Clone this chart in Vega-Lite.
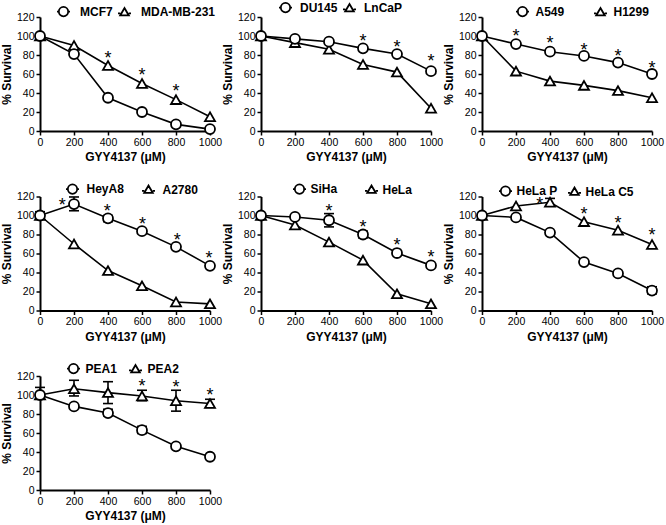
{
  "$schema": "https://vega.github.io/schema/vega-lite/v6.json",
  "padding": {"left": 0, "top": 0, "right": 5, "bottom": 5},
  "background": "white",
  "columns": 3,
  "bounds": "flush",
  "spacing": {"row": 65.5, "column": 51},
  "resolve": {"scale": {"shape": "independent"}, "legend": {"shape": "independent"}},
  "datasets": {
    "p1": [
      {"cell": "MDA-MB-231", "dose": 0, "survival": 100},
      {"cell": "MDA-MB-231", "dose": 200, "survival": 90},
      {"cell": "MDA-MB-231", "dose": 400, "survival": 69},
      {"cell": "MDA-MB-231", "dose": 600, "survival": 50},
      {"cell": "MDA-MB-231", "dose": 800, "survival": 33},
      {"cell": "MDA-MB-231", "dose": 1000, "survival": 15},
      {"cell": "MCF7", "dose": 0, "survival": 100},
      {"cell": "MCF7", "dose": 200, "survival": 81},
      {"cell": "MCF7", "dose": 400, "survival": 35},
      {"cell": "MCF7", "dose": 600, "survival": 20},
      {"cell": "MCF7", "dose": 800, "survival": 7},
      {"cell": "MCF7", "dose": 1000, "survival": 2}
    ],
    "s1": [
      {"dose": 400, "survival": 81.5},
      {"dose": 600, "survival": 64},
      {"dose": 800, "survival": 47}
    ],
    "p2": [
      {"cell": "LnCaP", "dose": 0, "survival": 100},
      {"cell": "LnCaP", "dose": 200, "survival": 93},
      {"cell": "LnCaP", "dose": 400, "survival": 86},
      {"cell": "LnCaP", "dose": 600, "survival": 70},
      {"cell": "LnCaP", "dose": 800, "survival": 62},
      {"cell": "LnCaP", "dose": 1000, "survival": 24},
      {"cell": "DU145", "dose": 0, "survival": 100},
      {"cell": "DU145", "dose": 200, "survival": 97},
      {"cell": "DU145", "dose": 400, "survival": 94},
      {"cell": "DU145", "dose": 600, "survival": 87},
      {"cell": "DU145", "dose": 800, "survival": 81},
      {"cell": "DU145", "dose": 1000, "survival": 63}
    ],
    "s2": [
      {"dose": 600, "survival": 100},
      {"dose": 800, "survival": 93},
      {"dose": 1000, "survival": 78}
    ],
    "p3": [
      {"cell": "H1299", "dose": 0, "survival": 100},
      {"cell": "H1299", "dose": 200, "survival": 63},
      {"cell": "H1299", "dose": 400, "survival": 52.5},
      {"cell": "H1299", "dose": 600, "survival": 48},
      {"cell": "H1299", "dose": 800, "survival": 42.5},
      {"cell": "H1299", "dose": 1000, "survival": 35},
      {"cell": "A549", "dose": 0, "survival": 100},
      {"cell": "A549", "dose": 200, "survival": 91.5},
      {"cell": "A549", "dose": 400, "survival": 83.5},
      {"cell": "A549", "dose": 600, "survival": 79},
      {"cell": "A549", "dose": 800, "survival": 72},
      {"cell": "A549", "dose": 1000, "survival": 60}
    ],
    "s3": [
      {"dose": 200, "survival": 104.5},
      {"dose": 400, "survival": 97},
      {"dose": 600, "survival": 90},
      {"dose": 800, "survival": 83.5},
      {"dose": 1000, "survival": 71}
    ],
    "p4": [
      {"cell": "A2780", "dose": 0, "survival": 100},
      {"cell": "A2780", "dose": 200, "survival": 70},
      {"cell": "A2780", "dose": 400, "survival": 42},
      {"cell": "A2780", "dose": 600, "survival": 26},
      {"cell": "A2780", "dose": 800, "survival": 9},
      {"cell": "A2780", "dose": 1000, "survival": 7},
      {"cell": "HeyA8", "dose": 0, "survival": 100, "lo": 96, "hi": 104},
      {"cell": "HeyA8", "dose": 200, "survival": 112, "lo": 105, "hi": 119.5},
      {"cell": "HeyA8", "dose": 400, "survival": 97, "lo": 93.5, "hi": 100},
      {"cell": "HeyA8", "dose": 600, "survival": 83.5},
      {"cell": "HeyA8", "dose": 800, "survival": 67},
      {"cell": "HeyA8", "dose": 1000, "survival": 47}
    ],
    "s4": [
      {"dose": 131, "survival": 115.5},
      {"dose": 395, "survival": 109},
      {"dose": 603, "survival": 96},
      {"dose": 808, "survival": 79},
      {"dose": 994, "survival": 60}
    ],
    "p5": [
      {"cell": "HeLa", "dose": 0, "survival": 100},
      {"cell": "HeLa", "dose": 200, "survival": 90},
      {"cell": "HeLa", "dose": 400, "survival": 72},
      {"cell": "HeLa", "dose": 600, "survival": 53},
      {"cell": "HeLa", "dose": 800, "survival": 17.5},
      {"cell": "HeLa", "dose": 1000, "survival": 7},
      {"cell": "SiHa", "dose": 0, "survival": 100},
      {"cell": "SiHa", "dose": 200, "survival": 98.5},
      {"cell": "SiHa", "dose": 400, "survival": 95, "lo": 88, "hi": 102},
      {"cell": "SiHa", "dose": 600, "survival": 80, "lo": 76.5, "hi": 83.5},
      {"cell": "SiHa", "dose": 800, "survival": 60.5},
      {"cell": "SiHa", "dose": 1000, "survival": 47.5}
    ],
    "s5": [
      {"dose": 400, "survival": 110},
      {"dose": 600, "survival": 92.5},
      {"dose": 800, "survival": 74},
      {"dose": 1000, "survival": 61}
    ],
    "p6": [
      {"cell": "HeLa C5", "dose": 0, "survival": 100},
      {"cell": "HeLa C5", "dose": 200, "survival": 110},
      {"cell": "HeLa C5", "dose": 400, "survival": 114, "lo": 110, "hi": 118},
      {"cell": "HeLa C5", "dose": 600, "survival": 93.5},
      {"cell": "HeLa C5", "dose": 800, "survival": 84.5},
      {"cell": "HeLa C5", "dose": 1000, "survival": 69.5},
      {"cell": "HeLa P", "dose": 0, "survival": 100},
      {"cell": "HeLa P", "dose": 200, "survival": 98},
      {"cell": "HeLa P", "dose": 400, "survival": 82},
      {"cell": "HeLa P", "dose": 600, "survival": 51},
      {"cell": "HeLa P", "dose": 800, "survival": 39},
      {"cell": "HeLa P", "dose": 1000, "survival": 21, "lo": 17.5, "hi": 25}
    ],
    "s6": [
      {"dose": 340, "survival": 117.3},
      {"dose": 600, "survival": 106},
      {"dose": 800, "survival": 97},
      {"dose": 1000, "survival": 84.5}
    ],
    "p7": [
      {"cell": "PEA2", "dose": 0, "survival": 100, "lo": 95.5, "hi": 108},
      {"cell": "PEA2", "dose": 200, "survival": 106.5, "lo": 99, "hi": 115.5},
      {"cell": "PEA2", "dose": 400, "survival": 102.5, "lo": 91, "hi": 114},
      {"cell": "PEA2", "dose": 600, "survival": 99, "lo": 94, "hi": 105},
      {"cell": "PEA2", "dose": 800, "survival": 94, "lo": 83, "hi": 105},
      {"cell": "PEA2", "dose": 1000, "survival": 91, "lo": 87, "hi": 95.5},
      {"cell": "PEA1", "dose": 0, "survival": 100},
      {"cell": "PEA1", "dose": 200, "survival": 88},
      {"cell": "PEA1", "dose": 400, "survival": 81, "lo": 78, "hi": 85},
      {"cell": "PEA1", "dose": 600, "survival": 63, "lo": 59.5, "hi": 67},
      {"cell": "PEA1", "dose": 800, "survival": 46},
      {"cell": "PEA1", "dose": 1000, "survival": 35}
    ],
    "s7": [
      {"dose": 600, "survival": 114.5},
      {"dose": 800, "survival": 113},
      {"dose": 1000, "survival": 105}
    ]
  },
  "concat": [
    {
      "width": 170, "height": 114,
      "data": {"name": "p1"},
      "resolve": {"scale": {"shape": "independent"}},
      "encoding": {
        "x": {"field": "dose", "type": "quantitative", "scale": {"domain": [0, 1000], "nice": false}, "axis": {"title": "GYY4137 (μM)", "format": "d", "values": [0, 200, 400, 600, 800, 1000]}},
        "y": {"field": "survival", "type": "quantitative", "scale": {"domain": [0, 120], "nice": false}, "axis": {"title": "% Survival", "values": [0, 20, 40, 60, 80, 100, 120]}}
      },
      "layer": [
        {"transform": [{"filter": "false"}], "mark": {"type": "point", "filled": false, "stroke": "black", "strokeWidth": 1.8, "size": 169, "opacity": 1},
         "encoding": {"shape": {"field": "cell", "type": "nominal", "scale": {"domain": ["MCF7", "MDA-MB-231"], "range": ["M-1,0L-0.72,0M0.72,0L1,0M0.72,0A0.72,0.72 0 1,1 -0.72,0A0.72,0.72 0 1,1 0.72,0Z", "M-1,0.15L-0.66,0.15M0.66,0.15L1,0.15M-0.66,0.46L0.66,0.46L0,-0.68Z"]},
           "legend": {"title": null, "orient": "none", "direction": "horizontal", "legendX": 16, "legendY": -13, "labelOffset": 9, "columnPadding": 1}}}},
        {"mark": {"type": "line", "color": "black", "strokeWidth": 1.6}, "encoding": {"detail": {"field": "cell"}}},
        {"mark": {"type": "point", "filled": true, "fill": "white", "stroke": "black", "strokeWidth": 1.8, "size": 100, "opacity": 1},
         "encoding": {"shape": {"field": "cell", "type": "nominal", "scale": {"domain": ["MCF7", "MDA-MB-231"], "range": ["circle", "triangle-up"]}, "legend": null}}},
        {"data": {"name": "s1"}, "mark": {"type": "text", "text": "*", "fontSize": 18, "font": "Liberation Sans", "color": "black", "baseline": "alphabetic", "dy": 10.5}}
      ]
    },
    {
      "width": 170, "height": 114,
      "data": {"name": "p2"},
      "resolve": {"scale": {"shape": "independent"}},
      "encoding": {
        "x": {"field": "dose", "type": "quantitative", "scale": {"domain": [0, 1000], "nice": false}, "axis": {"title": "GYY4137 (μM)", "format": "d", "values": [0, 200, 400, 600, 800, 1000]}},
        "y": {"field": "survival", "type": "quantitative", "scale": {"domain": [0, 120], "nice": false}, "axis": {"title": "% Survival", "values": [0, 20, 40, 60, 80, 100, 120]}}
      },
      "layer": [
        {"transform": [{"filter": "false"}], "mark": {"type": "point", "filled": false, "stroke": "black", "strokeWidth": 1.8, "size": 169, "opacity": 1},
         "encoding": {"shape": {"field": "cell", "type": "nominal", "scale": {"domain": ["DU145", "LnCaP"], "range": ["M-1,0L-0.72,0M0.72,0L1,0M0.72,0A0.72,0.72 0 1,1 -0.72,0A0.72,0.72 0 1,1 0.72,0Z", "M-1,0.15L-0.66,0.15M0.66,0.15L1,0.15M-0.66,0.46L0.66,0.46L0,-0.68Z"]},
           "legend": {"title": null, "orient": "none", "direction": "horizontal", "legendX": 17, "legendY": -17, "labelOffset": 7, "columnPadding": 1}}}},
        {"mark": {"type": "line", "color": "black", "strokeWidth": 1.6}, "encoding": {"detail": {"field": "cell"}}},
        {"mark": {"type": "point", "filled": true, "fill": "white", "stroke": "black", "strokeWidth": 1.8, "size": 100, "opacity": 1},
         "encoding": {"shape": {"field": "cell", "type": "nominal", "scale": {"domain": ["DU145", "LnCaP"], "range": ["circle", "triangle-up"]}, "legend": null}}},
        {"data": {"name": "s2"}, "mark": {"type": "text", "text": "*", "fontSize": 18, "font": "Liberation Sans", "color": "black", "baseline": "alphabetic", "dy": 10.5}}
      ]
    },
    {
      "width": 170, "height": 114,
      "data": {"name": "p3"},
      "resolve": {"scale": {"shape": "independent"}},
      "encoding": {
        "x": {"field": "dose", "type": "quantitative", "scale": {"domain": [0, 1000], "nice": false}, "axis": {"title": "GYY4137 (μM)", "format": "d", "values": [0, 200, 400, 600, 800, 1000]}},
        "y": {"field": "survival", "type": "quantitative", "scale": {"domain": [0, 120], "nice": false}, "axis": {"title": "% Survival", "values": [0, 20, 40, 60, 80, 100, 120]}}
      },
      "layer": [
        {"transform": [{"filter": "false"}], "mark": {"type": "point", "filled": false, "stroke": "black", "strokeWidth": 1.8, "size": 169, "opacity": 1},
         "encoding": {"shape": {"field": "cell", "type": "nominal", "scale": {"domain": ["A549", "H1299"], "range": ["M-1,0L-0.72,0M0.72,0L1,0M0.72,0A0.72,0.72 0 1,1 -0.72,0A0.72,0.72 0 1,1 0.72,0Z", "M-1,0.15L-0.66,0.15M0.66,0.15L1,0.15M-0.66,0.46L0.66,0.46L0,-0.68Z"]},
           "legend": {"title": null, "orient": "none", "direction": "horizontal", "legendX": 33, "legendY": -13, "labelOffset": 5.5, "columnPadding": 25}}}},
        {"mark": {"type": "line", "color": "black", "strokeWidth": 1.6}, "encoding": {"detail": {"field": "cell"}}},
        {"mark": {"type": "point", "filled": true, "fill": "white", "stroke": "black", "strokeWidth": 1.8, "size": 100, "opacity": 1},
         "encoding": {"shape": {"field": "cell", "type": "nominal", "scale": {"domain": ["A549", "H1299"], "range": ["circle", "triangle-up"]}, "legend": null}}},
        {"data": {"name": "s3"}, "mark": {"type": "text", "text": "*", "fontSize": 18, "font": "Liberation Sans", "color": "black", "baseline": "alphabetic", "dy": 10.5}}
      ]
    },
    {
      "width": 170, "height": 114,
      "data": {"name": "p4"},
      "resolve": {"scale": {"shape": "independent"}},
      "encoding": {
        "x": {"field": "dose", "type": "quantitative", "scale": {"domain": [0, 1000], "nice": false}, "axis": {"title": "GYY4137 (μM)", "format": "d", "values": [0, 200, 400, 600, 800, 1000]}},
        "y": {"field": "survival", "type": "quantitative", "scale": {"domain": [0, 120], "nice": false}, "axis": {"title": "% Survival", "values": [0, 20, 40, 60, 80, 100, 120]}}
      },
      "layer": [
        {"transform": [{"filter": "false"}], "mark": {"type": "point", "filled": false, "stroke": "black", "strokeWidth": 1.8, "size": 169, "opacity": 1},
         "encoding": {"shape": {"field": "cell", "type": "nominal", "scale": {"domain": ["HeyA8", "A2780"], "range": ["M-1,0L-0.72,0M0.72,0L1,0M0.72,0A0.72,0.72 0 1,1 -0.72,0A0.72,0.72 0 1,1 0.72,0Z", "M-1,0.15L-0.66,0.15M0.66,0.15L1,0.15M-0.66,0.46L0.66,0.46L0,-0.68Z"]},
           "legend": {"title": null, "orient": "none", "direction": "horizontal", "legendX": 25, "legendY": -15, "labelOffset": 6.5, "columnPadding": 14}}}},
        {"mark": {"type": "line", "color": "black", "strokeWidth": 1.6}, "encoding": {"detail": {"field": "cell"}}},
        {"transform": [{"filter": "isValid(datum.lo)"}], "mark": {"type": "rule", "color": "black", "strokeWidth": 1.6},
         "encoding": {"y": {"field": "lo", "type": "quantitative", "title": "% Survival"}, "y2": {"field": "hi"}}},
        {"transform": [{"filter": "isValid(datum.lo)"}, {"fold": ["lo", "hi"], "as": ["end", "v"]}],
         "mark": {"type": "point", "shape": "stroke", "color": "black", "strokeWidth": 1.6, "size": 100, "opacity": 1},
         "encoding": {"y": {"field": "v", "type": "quantitative", "title": "% Survival"}}},
        {"mark": {"type": "point", "filled": true, "fill": "white", "stroke": "black", "strokeWidth": 1.8, "size": 100, "opacity": 1},
         "encoding": {"shape": {"field": "cell", "type": "nominal", "scale": {"domain": ["HeyA8", "A2780"], "range": ["circle", "triangle-up"]}, "legend": null}}},
        {"data": {"name": "s4"}, "mark": {"type": "text", "text": "*", "fontSize": 18, "font": "Liberation Sans", "color": "black", "baseline": "alphabetic", "dy": 10.5}}
      ]
    },
    {
      "width": 170, "height": 114,
      "data": {"name": "p5"},
      "resolve": {"scale": {"shape": "independent"}},
      "encoding": {
        "x": {"field": "dose", "type": "quantitative", "scale": {"domain": [0, 1000], "nice": false}, "axis": {"title": "GYY4137 (μM)", "format": "d", "values": [0, 200, 400, 600, 800, 1000]}},
        "y": {"field": "survival", "type": "quantitative", "scale": {"domain": [0, 120], "nice": false}, "axis": {"title": "% Survival", "values": [0, 20, 40, 60, 80, 100, 120]}}
      },
      "layer": [
        {"transform": [{"filter": "false"}], "mark": {"type": "point", "filled": false, "stroke": "black", "strokeWidth": 1.8, "size": 169, "opacity": 1},
         "encoding": {"shape": {"field": "cell", "type": "nominal", "scale": {"domain": ["SiHa", "HeLa"], "range": ["M-1,0L-0.72,0M0.72,0L1,0M0.72,0A0.72,0.72 0 1,1 -0.72,0A0.72,0.72 0 1,1 0.72,0Z", "M-1,0.15L-0.66,0.15M0.66,0.15L1,0.15M-0.66,0.46L0.66,0.46L0,-0.68Z"]},
           "legend": {"title": null, "orient": "none", "direction": "horizontal", "legendX": 31, "legendY": -15, "labelOffset": 3.5, "columnPadding": 23}}}},
        {"mark": {"type": "line", "color": "black", "strokeWidth": 1.6}, "encoding": {"detail": {"field": "cell"}}},
        {"transform": [{"filter": "isValid(datum.lo)"}], "mark": {"type": "rule", "color": "black", "strokeWidth": 1.6},
         "encoding": {"y": {"field": "lo", "type": "quantitative", "title": "% Survival"}, "y2": {"field": "hi"}}},
        {"transform": [{"filter": "isValid(datum.lo)"}, {"fold": ["lo", "hi"], "as": ["end", "v"]}],
         "mark": {"type": "point", "shape": "stroke", "color": "black", "strokeWidth": 1.6, "size": 100, "opacity": 1},
         "encoding": {"y": {"field": "v", "type": "quantitative", "title": "% Survival"}}},
        {"mark": {"type": "point", "filled": true, "fill": "white", "stroke": "black", "strokeWidth": 1.8, "size": 100, "opacity": 1},
         "encoding": {"shape": {"field": "cell", "type": "nominal", "scale": {"domain": ["SiHa", "HeLa"], "range": ["circle", "triangle-up"]}, "legend": null}}},
        {"data": {"name": "s5"}, "mark": {"type": "text", "text": "*", "fontSize": 18, "font": "Liberation Sans", "color": "black", "baseline": "alphabetic", "dy": 10.5}}
      ]
    },
    {
      "width": 170, "height": 114,
      "data": {"name": "p6"},
      "resolve": {"scale": {"shape": "independent"}},
      "encoding": {
        "x": {"field": "dose", "type": "quantitative", "scale": {"domain": [0, 1000], "nice": false}, "axis": {"title": "GYY4137 (μM)", "format": "d", "values": [0, 200, 400, 600, 800, 1000]}},
        "y": {"field": "survival", "type": "quantitative", "scale": {"domain": [0, 120], "nice": false}, "axis": {"title": "% Survival", "values": [0, 20, 40, 60, 80, 100, 120]}}
      },
      "layer": [
        {"transform": [{"filter": "false"}], "mark": {"type": "point", "filled": false, "stroke": "black", "strokeWidth": 1.8, "size": 169, "opacity": 1},
         "encoding": {"shape": {"field": "cell", "type": "nominal", "scale": {"domain": ["HeLa P", "HeLa C5"], "range": ["M-1,0L-0.72,0M0.72,0L1,0M0.72,0A0.72,0.72 0 1,1 -0.72,0A0.72,0.72 0 1,1 0.72,0Z", "M-1,0.15L-0.66,0.15M0.66,0.15L1,0.15M-0.66,0.46L0.66,0.46L0,-0.68Z"]},
           "legend": {"title": null, "orient": "none", "direction": "horizontal", "legendX": 16, "legendY": -13, "labelOffset": 3.5, "columnPadding": 6}}}},
        {"mark": {"type": "line", "color": "black", "strokeWidth": 1.6}, "encoding": {"detail": {"field": "cell"}}},
        {"transform": [{"filter": "isValid(datum.lo)"}], "mark": {"type": "rule", "color": "black", "strokeWidth": 1.6},
         "encoding": {"y": {"field": "lo", "type": "quantitative", "title": "% Survival"}, "y2": {"field": "hi"}}},
        {"transform": [{"filter": "isValid(datum.lo)"}, {"fold": ["lo", "hi"], "as": ["end", "v"]}],
         "mark": {"type": "point", "shape": "stroke", "color": "black", "strokeWidth": 1.6, "size": 100, "opacity": 1},
         "encoding": {"y": {"field": "v", "type": "quantitative", "title": "% Survival"}}},
        {"mark": {"type": "point", "filled": true, "fill": "white", "stroke": "black", "strokeWidth": 1.8, "size": 100, "opacity": 1},
         "encoding": {"shape": {"field": "cell", "type": "nominal", "scale": {"domain": ["HeLa P", "HeLa C5"], "range": ["circle", "triangle-up"]}, "legend": null}}},
        {"data": {"name": "s6"}, "mark": {"type": "text", "text": "*", "fontSize": 18, "font": "Liberation Sans", "color": "black", "baseline": "alphabetic", "dy": 10.5}}
      ]
    },
    {
      "width": 170, "height": 114,
      "data": {"name": "p7"},
      "resolve": {"scale": {"shape": "independent"}},
      "encoding": {
        "x": {"field": "dose", "type": "quantitative", "scale": {"domain": [0, 1000], "nice": false}, "axis": {"title": "GYY4137 (μM)", "format": "d", "values": [0, 200, 400, 600, 800, 1000]}},
        "y": {"field": "survival", "type": "quantitative", "scale": {"domain": [0, 120], "nice": false}, "axis": {"title": "% Survival", "values": [0, 20, 40, 60, 80, 100, 120]}}
      },
      "layer": [
        {"transform": [{"filter": "false"}], "mark": {"type": "point", "filled": false, "stroke": "black", "strokeWidth": 1.8, "size": 169, "opacity": 1},
         "encoding": {"shape": {"field": "cell", "type": "nominal", "scale": {"domain": ["PEA1", "PEA2"], "range": ["M-1,0L-0.72,0M0.72,0L1,0M0.72,0A0.72,0.72 0 1,1 -0.72,0A0.72,0.72 0 1,1 0.72,0Z", "M-1,0.15L-0.66,0.15M0.66,0.15L1,0.15M-0.66,0.46L0.66,0.46L0,-0.68Z"]},
           "legend": {"title": null, "orient": "none", "direction": "horizontal", "legendX": 26, "legendY": -15, "labelOffset": 4.5, "columnPadding": 8}}}},
        {"mark": {"type": "line", "color": "black", "strokeWidth": 1.6}, "encoding": {"detail": {"field": "cell"}}},
        {"transform": [{"filter": "isValid(datum.lo)"}], "mark": {"type": "rule", "color": "black", "strokeWidth": 1.6},
         "encoding": {"y": {"field": "lo", "type": "quantitative", "title": "% Survival"}, "y2": {"field": "hi"}}},
        {"transform": [{"filter": "isValid(datum.lo)"}, {"fold": ["lo", "hi"], "as": ["end", "v"]}],
         "mark": {"type": "point", "shape": "stroke", "color": "black", "strokeWidth": 1.6, "size": 100, "opacity": 1},
         "encoding": {"y": {"field": "v", "type": "quantitative", "title": "% Survival"}}},
        {"mark": {"type": "point", "filled": true, "fill": "white", "stroke": "black", "strokeWidth": 1.8, "size": 100, "opacity": 1},
         "encoding": {"shape": {"field": "cell", "type": "nominal", "scale": {"domain": ["PEA1", "PEA2"], "range": ["circle", "triangle-up"]}, "legend": null}}},
        {"data": {"name": "s7"}, "mark": {"type": "text", "text": "*", "fontSize": 18, "font": "Liberation Sans", "color": "black", "baseline": "alphabetic", "dy": 10.5}}
      ]
    }
  ],
  "config": {
    "view": {"stroke": null},
    "font": "Liberation Sans",
    "axis": {
      "grid": false,
      "domainColor": "black",
      "domainWidth": 2,
      "tickColor": "black",
      "tickWidth": 1.5,
      "tickSize": 4,
      "labelColor": "black",
      "labelFont": "Liberation Sans",
      "labelFontSize": 10.5,
      "labelPadding": 2,
      "labelFlush": false,
      "labelOverlap": false,
      "titleFont": "Liberation Sans",
      "titleFontSize": 12,
      "titleFontWeight": "bold",
      "titleColor": "black"
    },
    "axisX": {"titlePadding": 4},
    "axisY": {"titlePadding": 3},
    "legend": {
      "labelFont": "Liberation Sans",
      "labelFontSize": 12,
      "labelFontWeight": "bold",
      "labelColor": "black",
      "labelLimit": 200,
      "symbolSize": 169,
      "symbolStrokeWidth": 1.8,
      "symbolStrokeColor": "black",
      "symbolFillColor": "white",
      "padding": 0,
      "rowPadding": 0,
      "encode": {
        "symbols": {
          "update": {
            "fill": {"value": "white"},
            "stroke": {"value": "black"},
            "strokeWidth": {"value": 1.8},
            "opacity": {"value": 1}
          }
        }
      }
    }
  }
}
